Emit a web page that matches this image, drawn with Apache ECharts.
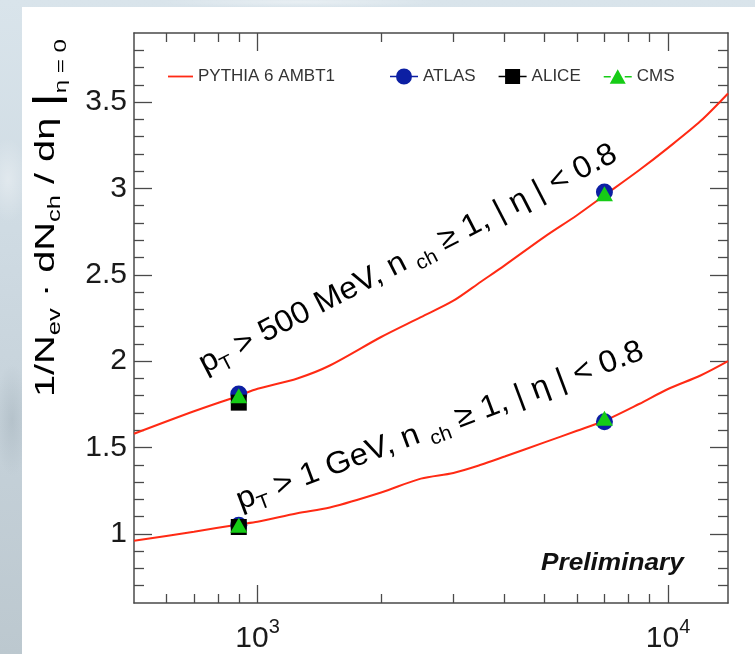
<!DOCTYPE html>
<html>
<head>
<meta charset="utf-8">
<script src="https://cdn.jsdelivr.net/npm/echarts@6/dist/echarts.min.js"></script>
<style>
  html, body { margin: 0; padding: 0; width: 755px; height: 654px; overflow: hidden; }
  body {
    background:
      radial-gradient(ellipse 30px 60px at 8px 180px, rgba(255,255,255,0.35), rgba(255,255,255,0) 70%),
      radial-gradient(ellipse 25px 80px at 12px 420px, rgba(150,165,175,0.35), rgba(150,165,175,0) 70%),
      radial-gradient(ellipse 200px 8px at 300px 2px, rgba(255,255,255,0.4), rgba(255,255,255,0) 70%),
      linear-gradient(180deg, #d9e4eb 0%, #cfdbe3 35%, #c4d0d8 70%, #bcc8cf 100%);
  }
  #panel { position: absolute; left: 22px; top: 7px; width: 733px; height: 647px; background: #ffffff; }
  #chart { position: absolute; left: 0; top: 0; width: 755px; height: 654px; }
</style>
</head>
<body>
<div id="panel"></div>
<div id="chart"></div>
<script>
// Centre-of-mass energies (GeV) of the measurements
const dataEnergy = [900, 7000];

// Charged-particle density at eta = 0, pT > 500 MeV
const atlas500 = [1.81, 2.98];
const alice500 = [1.76, null];
const cms500   = [1.80, 2.97];

// Charged-particle density at eta = 0, pT > 1 GeV
const atlas1000 = [1.05, 1.65];
const alice1000 = [1.04, null];
const cms1000   = [1.05, 1.67];

// PYTHIA 6 AMBT1 prediction
const pythiaEnergy = [500, 700, 900, 1000, 1250, 1500, 2000, 2500, 3000, 3500, 4000, 5000, 6000, 7000, 8500, 10000, 12000, 14000];
const pythia500  = [1.58, 1.71, 1.80, 1.84, 1.90, 1.975, 2.14, 2.255, 2.35, 2.46, 2.555, 2.72, 2.845, 2.96, 3.105, 3.235, 3.39, 3.55];
const pythia1000 = [0.96, 1.013, 1.055, 1.07, 1.12, 1.153, 1.24, 1.32, 1.353, 1.40, 1.448, 1.53, 1.597, 1.655, 1.752, 1.839, 1.917, 2.0];

// Axis ticks
const xMajorTicks = [1000, 10000];
const xMinorTicks = [600, 700, 800, 900, 2000, 3000, 4000, 5000, 6000, 7000, 8000, 9000];
const yMajorTicks = [1, 1.5, 2, 2.5, 3, 3.5];
const yMinorTicks = [0.7, 0.8, 0.9, 1.1, 1.2, 1.3, 1.4, 1.6, 1.7, 1.8, 1.9, 2.1, 2.2, 2.3, 2.4,
                     2.6, 2.7, 2.8, 2.9, 3.1, 3.2, 3.3, 3.4, 3.6, 3.7, 3.8];

const X_MIN = 500, X_MAX = 14000, Y_MIN = 0.6, Y_MAX = 3.9;
const FONT = '"Liberation Sans", Arial, Helvetica, sans-serif';
const AXIS_COLOR = '#4a4a4a';
const INK = '#1a1a1a';

function pairs(xs, ys) {
  const out = [];
  xs.forEach((x, i) => { if (ys[i] != null) out.push([x, ys[i]]); });
  return out;
}

function xAxis(gridIndex, position, ticks, len, showLine, showLabels) {
  return {
    type: 'log', logBase: 10, gridIndex, position, min: X_MIN, max: X_MAX,
    axisLine: { show: showLine, onZero: false, lineStyle: { color: AXIS_COLOR, width: 1.5 } },
    axisTick: { show: true, inside: true, length: len, customValues: ticks,
                lineStyle: { color: AXIS_COLOR, width: 1.3 } },
    axisLabel: showLabels ? {
      show: true, customValues: xMajorTicks, margin: 14,
      formatter: v => '{b|10}{s|' + Math.round(Math.log10(v)) + '}',
      rich: {
        b: { fontSize: 30, color: INK, fontFamily: FONT },
        s: { fontSize: 20, color: INK, fontFamily: FONT, padding: [0, 0, 24, 0] }
      }
    } : { show: false },
    splitLine: { show: false }, minorTick: { show: false }, minorSplitLine: { show: false }
  };
}

function yAxis(gridIndex, position, ticks, len, showLine, showLabels) {
  return {
    type: 'value', gridIndex, position, min: Y_MIN, max: Y_MAX,
    axisLine: { show: showLine, onZero: false, lineStyle: { color: AXIS_COLOR, width: 1.5 } },
    axisTick: { show: true, inside: true, length: len, customValues: ticks,
                lineStyle: { color: AXIS_COLOR, width: 1.3 } },
    axisLabel: showLabels ? {
      show: true, customValues: yMajorTicks, margin: 7,
      fontSize: 30, color: INK, fontFamily: FONT
    } : { show: false },
    splitLine: { show: false }
  };
}

const gridRect = { left: 134, right: 27, top: 33, bottom: 51 };

const rich = {
  m: { fontSize: 31, color: INK, fontFamily: FONT },
  s: { fontSize: 20, color: INK, fontFamily: FONT, padding: [20, 0, 0, 0] }
};

const option = {
  animation: false,
  backgroundColor: 'transparent',
  textStyle: { fontFamily: FONT },
  grid: [Object.assign({}, gridRect), Object.assign({}, gridRect)],
  xAxis: [
    xAxis(0, 'bottom', xMajorTicks, 18, true, true),
    xAxis(0, 'top', xMajorTicks, 18, true, false),
    xAxis(1, 'bottom', xMinorTicks, 9, false, false),
    xAxis(1, 'top', xMinorTicks, 9, false, false)
  ],
  yAxis: [
    yAxis(0, 'left', yMajorTicks, 18, true, true),
    yAxis(0, 'right', yMajorTicks, 18, true, false),
    yAxis(1, 'left', yMinorTicks, 10, false, false),
    yAxis(1, 'right', yMinorTicks, 10, false, false)
  ],
  legend: [
    {
      data: [{ name: 'PYTHIA 6 AMBT1', icon: 'path://M0,7.1h25v1.8h-25z' }],
      left: 168, top: 68, padding: 0,
      itemWidth: 25, itemHeight: 16, selectedMode: false,
      textStyle: { fontSize: 17, color: '#333', fontFamily: FONT }
    },
    {
      data: [
        { name: 'ATLAS', icon: 'path://M0,9.2h8v1.6h-8z M20,9.2h8v1.6h-8z M14,2a8,8 0 1,1 -0.01,0z' },
        { name: 'ALICE', icon: 'path://M0,9.2h7v1.6h-7z M21,9.2h7v1.6h-7z M6.5,2.5h15v15h-15z' },
        { name: 'CMS',   icon: 'path://M0,9.2h7v1.6h-7z M21,9.2h7v1.6h-7z M14,2.5L22,17H6z' }
      ],
      left: 390, top: 68, padding: 0, itemWidth: 28, itemHeight: 16, itemGap: 23,
      selectedMode: false,
      textStyle: { fontSize: 17, color: '#333', fontFamily: FONT }
    }
  ],
  series: [
    {
      name: 'PYTHIA 6 AMBT1', type: 'line', xAxisIndex: 0, yAxisIndex: 0,
      data: pairs(pythiaEnergy, pythia500), symbol: 'none', smooth: 0.3, z: 2,
      lineStyle: { color: '#ff2a14', width: 2 }, itemStyle: { color: '#ff2a14' }
    },
    {
      name: 'PYTHIA 6 AMBT1', type: 'line', xAxisIndex: 0, yAxisIndex: 0,
      data: pairs(pythiaEnergy, pythia1000), symbol: 'none', smooth: 0.3, z: 2,
      lineStyle: { color: '#ff2a14', width: 2 }, itemStyle: { color: '#ff2a14' }
    },
    {
      name: 'ATLAS', type: 'scatter', xAxisIndex: 0, yAxisIndex: 0, z: 3,
      symbol: 'circle', symbolSize: 17, itemStyle: { color: '#0c1fa3', opacity: 1 },
      data: pairs(dataEnergy, atlas500).concat(pairs(dataEnergy, atlas1000))
    },
    {
      name: 'ALICE', type: 'scatter', xAxisIndex: 0, yAxisIndex: 0, z: 4,
      symbol: 'rect', symbolSize: 16, itemStyle: { color: '#000000', opacity: 1 },
      data: pairs(dataEnergy, alice500).concat(pairs(dataEnergy, alice1000))
    },
    {
      name: 'CMS', type: 'scatter', xAxisIndex: 0, yAxisIndex: 0, z: 5,
      symbol: 'triangle', symbolSize: [17, 15], itemStyle: { color: '#16cc16', opacity: 1 },
      data: pairs(dataEnergy, cms500).concat(pairs(dataEnergy, cms1000))
    }
  ],
  graphic: [
    {
      // y-axis title, stretched along its reading direction
      type: 'text', x: 46, y: 218, rotation: Math.PI / 2, scaleX: 1.42, z: 10,
      style: {
        text: '{m|1/N}{s|ev}{m| · dN}{s|ch}{m| / dη }{bar||}{e|η = 0}',
        align: 'center', verticalAlign: 'middle',
        rich: {
          m: { fontSize: 28, color: INK, fontFamily: FONT },
          s: { fontSize: 18, color: INK, fontFamily: FONT, padding: [18, 0, 0, 0] },
          bar: { fontSize: 36, color: INK, fontFamily: FONT, padding: [6, 0, 0, 0] },
          e: { fontSize: 17, color: INK, fontFamily: FONT, padding: [30, 0, 0, 0] }
        }
      }
    },
    {
      type: 'text', x: 408, y: 259, rotation: 27.3 * Math.PI / 180, scaleX: 1.04, z: 10,
      style: {
        text: '{m|p}{s|T}{m| > 500 MeV, n }{s|ch}{m| ≥ 1, | η | < 0.8}',
        align: 'center', verticalAlign: 'middle', rich: rich
      }
    },
    {
      type: 'text', x: 440, y: 426, rotation: 20.5 * Math.PI / 180, scaleX: 1.05, z: 10,
      style: {
        text: '{m|p}{s|T}{m| > 1 GeV, n }{s|ch}{m| ≥ 1, | η | < 0.8}',
        align: 'center', verticalAlign: 'middle', rich: rich
      }
    },
    {
      type: 'text', x: 541, y: 564, scaleX: 1.14, z: 10,
      style: {
        text: 'Preliminary', fontSize: 23, fontWeight: 'bold', fontStyle: 'italic',
        fill: '#111', fontFamily: FONT, align: 'left', verticalAlign: 'middle'
      }
    }
  ]
};

const chart = echarts.init(document.getElementById('chart'), null, { renderer: 'canvas' });
chart.setOption(option);
</script>
</body>
</html>
